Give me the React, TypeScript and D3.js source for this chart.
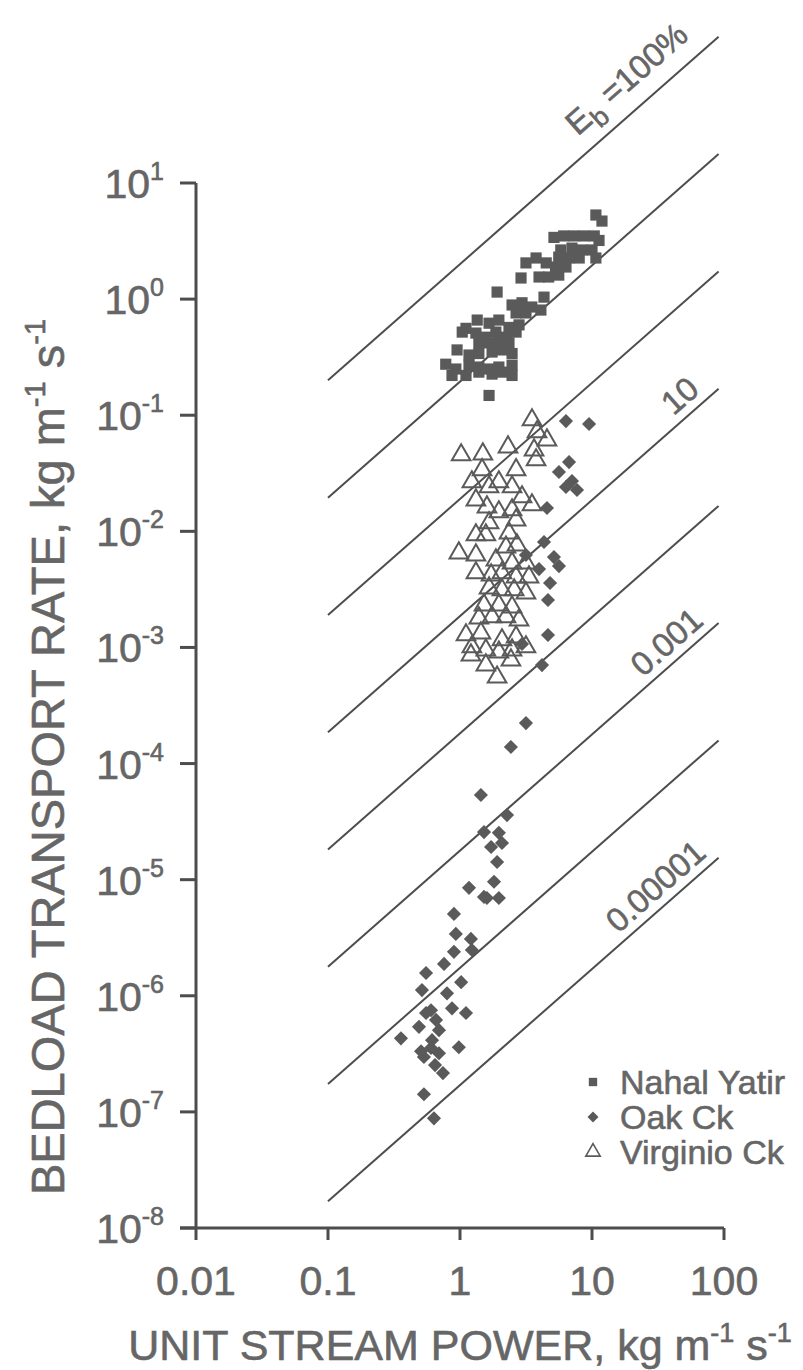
import React from "react";
import * as d3 from "d3";

const W = 803;
const H = 1370;

// axis ticks
const xTicks = [0.01, 0.1, 1, 10, 100];
const xTickLabels = ["0.01", "0.1", "1", "10", "100"];
const yTicks = [10, 1, 0.1, 0.01, 1e-3, 1e-4, 1e-5, 1e-6, 1e-7, 1e-8];
const yTickExponents = ["1", "0", "-1", "-2", "-3", "-4", "-5", "-6", "-7", "-8"];

// efficiency lines: bedload = coef * stream power
const efficiencyCoef = [2.0, 0.195, 0.019, 0.00186, 1.82e-4, 1.78e-5, 1.74e-6, 1.7e-7];
const efficiencyXRange = [0.1, 91];
const efficiencyLabels = [
  { line: 0, at: 9.6, main: "E", sub: "b", rest: " =100%" },
  { line: 3, at: 46, main: "10", sub: "", rest: "" },
  { line: 5, at: 27, main: "0.001", sub: "", rest: "" },
  { line: 7, at: 17.5, main: "0.00001", sub: "", rest: "" },
];

// series: [unit stream power, bedload transport rate]
const nahalYatir: [number, number][] = [
  [10.7, 5.3], [11.9, 4.7], [5.15, 3.4], [6.1, 3.5], [7.3, 3.5], [8.7, 3.5], [10.4, 3.5], [11.3, 3.2],
  [5.8, 2.65], [7.05, 2.75], [8.4, 2.65], [10, 2.65], [10.7, 2.26], [8.0, 2.26], [6.7, 2.26], [5.6, 2.3],
  [3.16, 2.05], [3.77, 2.26], [4.5, 2.05], [5.3, 1.89], [6.35, 1.89], [2.9, 1.52], [3.97, 1.55], [4.7, 1.55], [5.6, 1.61],
  [1.91, 1.15], [4.33, 1.04], [2.48, 0.89], [2.95, 0.93], [3.5, 0.855], [4.1, 0.805], [2.66, 0.76], [3.16, 0.76],
  [1.11, 0.56], [1.35, 0.66], [1.66, 0.62], [1.97, 0.66], [2.35, 0.57], [2.8, 0.6],
  [1.04, 0.52], [1.32, 0.51], [1.57, 0.47], [1.87, 0.52], [2.23, 0.47], [2.66, 0.52],
  [1.39, 0.42], [1.66, 0.42], [1.97, 0.43], [2.35, 0.42],
  [0.95, 0.365], [1.17, 0.33], [1.39, 0.34], [1.75, 0.35], [2.08, 0.365], [2.48, 0.34],
  [0.78, 0.275], [0.93, 0.25], [1.17, 0.27], [1.39, 0.26], [1.66, 0.25], [1.97, 0.26], [2.48, 0.27],
  [2.48, 0.22], [0.87, 0.22], [1.11, 0.22], [1.39, 0.235], [1.75, 0.226], [2.08, 0.235], [1.66, 0.148],
];

const oakCk: [number, number][] = [
  [6.35, 0.089], [9.5, 0.084], [6.7, 0.0395], [5.62, 0.0324], [7.05, 0.0271], [6.35, 0.0241], [7.7, 0.0227], [4.56, 0.0159],
  [4.33, 0.0081], [3.16, 0.00625], [5.15, 0.006], [5.62, 0.00502], [3.97, 0.00473], [4.81, 0.00359], [4.64, 0.00256],
  [4.64, 0.00128], [2.95, 0.00107], [4.18, 0.000705], [3.16, 0.000223], [2.43, 0.000139],
  [1.44, 5.36e-5], [2.27, 3.6e-5], [1.52, 2.57e-5], [1.97, 2.53e-5], [2.08, 2.07e-5], [1.72, 1.91e-5], [1.91, 1.42e-5],
  [1.17, 8.5e-6], [1.81, 9.6e-6], [1.6, 6.95e-6], [1.97, 6.95e-6], [1.52, 7.1e-6],
  [0.9, 5.07e-6], [0.93, 3.41e-6], [1.21, 3.09e-6], [0.9, 2.39e-6], [0.757, 1.88e-6], [1.23, 2.48e-6],
  [0.553, 1.57e-6], [1.02, 1.31e-6], [0.515, 1.12e-6], [0.797, 1.05e-6], [0.603, 7.5e-7], [0.87, 7.8e-7], [1.11, 7.1e-7],
  [0.658, 6.2e-7], [0.489, 5.4e-7], [0.693, 5.06e-7], [0.357, 4.3e-7], [0.98, 3.6e-7], [0.603, 3.55e-7], [0.533, 2.97e-7],
  [0.693, 3.2e-7], [0.553, 7.1e-7], [0.507, 3.33e-7], [0.647, 2.53e-7], [0.743, 2.16e-7], [0.533, 1.42e-7], [0.635, 8.8e-8],
  [0.614, 4.15e-7],
];

const virginioCk: [number, number][] = [
  [3.51, 0.091], [3.83, 0.0717], [4.56, 0.0611], [1.02, 0.0455], [1.49, 0.0463], [2.31, 0.0532], [3.64, 0.0501], [3.77, 0.0412],
  [1.47, 0.0339], [1.23, 0.0266], [1.66, 0.0241], [1.97, 0.0266], [2.66, 0.0339], [2.48, 0.0241], [2.95, 0.0198],
  [1.32, 0.0186], [1.6, 0.0162], [1.97, 0.0147], [2.48, 0.0153], [3.51, 0.0169], [1.66, 0.0118], [2.66, 0.0125],
  [1.32, 0.0093], [1.57, 0.0093], [2.35, 0.00967], [2.23, 0.00731], [2.7, 0.00761], [0.98, 0.0065], [1.32, 0.00625],
  [1.87, 0.00566], [2.48, 0.00533], [3.16, 0.00533], [1.32, 0.00438], [1.72, 0.0042], [2.08, 0.00438], [2.66, 0.00404], [3.33, 0.00404],
  [1.66, 0.00325], [2.08, 0.00313], [2.57, 0.00313], [3.16, 0.00294], [1.52, 0.00232], [1.97, 0.00232], [2.48, 0.00223],
  [1.39, 0.00179], [1.75, 0.00183], [2.23, 0.00183], [2.8, 0.00172], [1.11, 0.00128], [1.44, 0.00133], [2.08, 0.00116], [2.66, 0.00123],
  [1.23, 0.00101], [1.57, 0.00095], [1.97, 0.00091], [2.48, 0.00095], [3.16, 0.00101], [1.57, 0.000705], [1.91, 0.000555],
  [2.43, 0.000778], [1.21, 0.00086],
];

const legendItems = ["Nahal Yatir", "Oak Ck", "Virginio Ck"];

const FONT = "'Liberation Sans', Arial, Helvetica, sans-serif";
const INK = "#666666";
const MARK = "#5a5a5a";
const LINE = "#4d4d4d";

export default function App() {
  const x = d3.scaleLog().domain([0.01, 100]).range([196, 724]);
  const y = d3.scaleLog().domain([1e-8, 10]).range([1228, 183]);

  const square = d3.symbol(d3.symbolSquare, 125)() as string;
  const diamond = d3.symbol(d3.symbolSquare, 100)() as string;
  const triangle = d3.symbol(d3.symbolTriangle, 150)() as string;
  const legSquare = d3.symbol(d3.symbolSquare, 70)() as string;
  const legDiamond = d3.symbol(d3.symbolSquare, 60)() as string;
  const legTriangle = d3.symbol(d3.symbolTriangle, 90)() as string;

  const x0 = x(0.01);
  const yBottom = y(1e-8);
  const yTop = y(10);

  const lineGen = d3.line<[number, number]>().x((d) => x(d[0])).y((d) => y(d[1]));

  const TICK_FS = 41;
  const SUP_FS = 25;
  const LBL_FS = 33;
  const textStroke = { stroke: INK, strokeWidth: 0.6 };

  return (
    <svg
      width={W}
      height={H}
      style={{ position: "absolute", left: 0, top: 0, background: "#fff" }}
      fontFamily={FONT}
    >
      <rect width={W} height={H} fill="#fff" />

      {/* efficiency lines */}
      {efficiencyCoef.map((c, i) => (
        <path
          key={"eff" + i}
          d={lineGen(efficiencyXRange.map((v) => [v, c * v]) as [number, number][]) as string}
          stroke={LINE}
          strokeWidth={2}
          fill="none"
        />
      ))}

      {/* efficiency labels */}
      {efficiencyLabels.map((l, i) => {
        const c = efficiencyCoef[l.line];
        const px = x(l.at);
        const py = y(c * l.at);
        const dx = x(l.at * 10) - px;
        const dy = y(c * l.at * 10) - py;
        const len = Math.hypot(dx, dy);
        const ang = (Math.atan2(dy, dx) * 180) / Math.PI;
        const off = l.sub ? 18 : 9;
        const tx = px + (dy / len) * off;
        const ty = py + (-dx / len) * off;
        return (
          <text
            key={"lbl" + i}
            transform={`translate(${tx},${ty}) rotate(${ang})`}
            fontSize={LBL_FS}
            fill={INK}
            {...textStroke}
          >
            {l.main}
            {l.sub ? (
              <tspan fontSize={LBL_FS * 0.8} dy={9}>
                {l.sub}
              </tspan>
            ) : null}
            {l.rest ? <tspan dy={l.sub ? -9 : 0}>{l.rest}</tspan> : null}
          </text>
        );
      })}

      {/* axes */}
      <line x1={x0} x2={x0} y1={yTop} y2={yBottom} stroke={LINE} strokeWidth={3} />
      <line x1={x0 - 16} x2={x(100)} y1={yBottom} y2={yBottom} stroke={LINE} strokeWidth={3} />
      {yTicks.map((t, i) => (
        <g key={"yt" + i}>
          <line x1={x0 - 16} x2={x0} y1={y(t)} y2={y(t)} stroke={LINE} strokeWidth={3} />
          <text x={164} y={y(t) + 15} textAnchor="end" fontSize={TICK_FS} fill={INK} {...textStroke}>
            10
            <tspan fontSize={SUP_FS} dy={-18}>
              {yTickExponents[i]}
            </tspan>
          </text>
        </g>
      ))}
      {xTicks.map((t, i) => (
        <g key={"xt" + i}>
          <line x1={x(t)} x2={x(t)} y1={yBottom} y2={yBottom + 12} stroke={LINE} strokeWidth={3} />
          <text x={x(t)} y={yBottom + 67} textAnchor="middle" fontSize={TICK_FS} fill={INK} {...textStroke}>
            {xTickLabels[i]}
          </text>
        </g>
      ))}

      {/* axis titles */}
      <text x={460} y={1360} textAnchor="middle" fontSize={43} fill={INK} {...textStroke}>
        UNIT STREAM POWER, kg m
        <tspan fontSize={27} dy={-18}>-1</tspan>
        <tspan dy={18}> s</tspan>
        <tspan fontSize={27} dy={-18}>-1</tspan>
      </text>
      <text
        transform="translate(64,757) rotate(-90)"
        textAnchor="middle"
        fontSize={47}
        fill={INK}
        {...textStroke}
      >
        BEDLOAD TRANSPORT RATE, kg m
        <tspan fontSize={29} dy={-19}>-1</tspan>
        <tspan dy={19}> s</tspan>
        <tspan fontSize={29} dy={-19}>-1</tspan>
      </text>

      {/* data */}
      {virginioCk.map((d, i) => (
        <path
          key={"v" + i}
          d={triangle}
          transform={`translate(${x(d[0])},${y(d[1])})`}
          fill="none"
          stroke={MARK}
          strokeWidth={2}
        />
      ))}
      {oakCk.map((d, i) => (
        <path
          key={"o" + i}
          d={diamond}
          transform={`translate(${x(d[0])},${y(d[1])}) rotate(45)`}
          fill={MARK}
        />
      ))}
      {nahalYatir.map((d, i) => (
        <path key={"n" + i} d={square} transform={`translate(${x(d[0])},${y(d[1])})`} fill={MARK} />
      ))}

      {/* legend */}
      {legendItems.map((name, i) => {
        const cy = 1082 + i * 35;
        const sym = i === 0 ? legSquare : i === 1 ? legDiamond : legTriangle;
        return (
          <g key={"leg" + i}>
            <path
              d={sym}
              transform={`translate(593,${cy})${i === 1 ? " rotate(45)" : ""}`}
              fill={i === 2 ? "none" : MARK}
              stroke={i === 2 ? MARK : "none"}
              strokeWidth={1.6}
            />
            <text x={620} y={cy + 12} fontSize={34} fill={INK} {...textStroke}>
              {name}
            </text>
          </g>
        );
      })}
    </svg>
  );
}
